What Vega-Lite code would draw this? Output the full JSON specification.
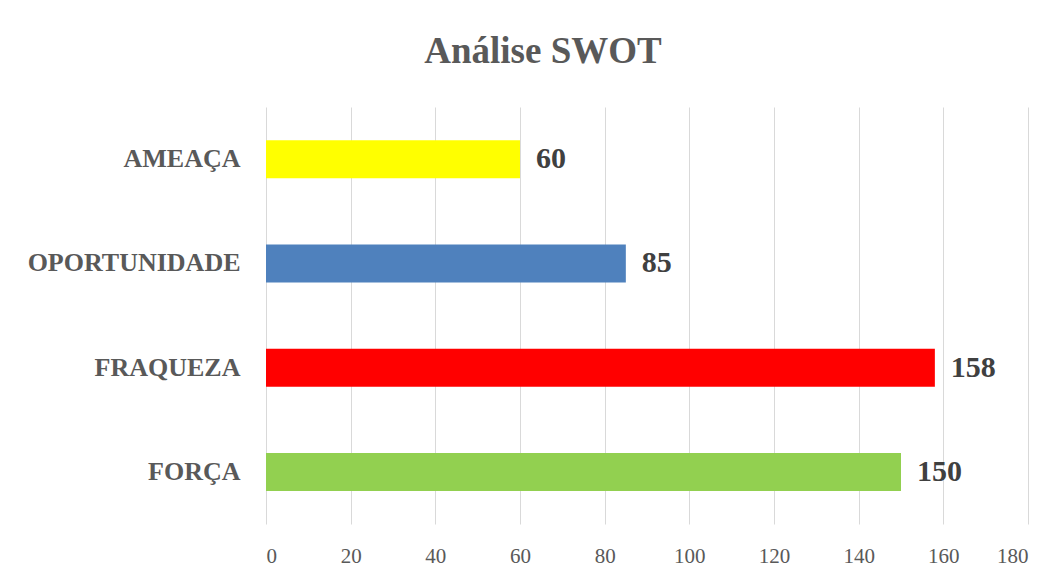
{
  "$schema": "https://vega.github.io/schema/vega-lite/v6.json",
  "width": 762,
  "height": 417,
  "autosize": {"type": "none"},
  "padding": {"left": 266, "top": 107, "right": 34, "bottom": 56},
  "background": "white",
  "title": {
    "text": "Análise SWOT",
    "font": "Liberation Serif",
    "fontSize": 37,
    "fontWeight": "bold",
    "color": "#595959",
    "anchor": "middle",
    "frame": "group",
    "dx": -104,
    "offset": 36
  },
  "data": {
    "values": [
      {"categoria": "AMEAÇA", "valor": 60},
      {"categoria": "OPORTUNIDADE", "valor": 85},
      {"categoria": "FRAQUEZA", "valor": 158},
      {"categoria": "FORÇA", "valor": 150}
    ]
  },
  "encoding": {
    "y": {
      "field": "categoria",
      "type": "nominal",
      "sort": ["AMEAÇA", "OPORTUNIDADE", "FRAQUEZA", "FORÇA"],
      "scale": {"paddingInner": 0, "paddingOuter": 0},
      "axis": {
        "title": null,
        "domain": false,
        "ticks": false,
        "labelFont": "Liberation Serif",
        "labelFontSize": 26,
        "labelFontWeight": "bold",
        "labelColor": "#595959",
        "labelPadding": 26,
        "labelLimit": 300
      }
    },
    "x": {
      "field": "valor",
      "type": "quantitative",
      "scale": {"domain": [0, 180], "nice": false},
      "axis": {
        "title": null,
        "values": [0, 20, 40, 60, 80, 100, 120, 140, 160, 180],
        "domain": false,
        "ticks": false,
        "grid": true,
        "gridColor": "#D9D9D9",
        "gridWidth": 1,
        "labelFont": "Liberation Serif",
        "labelFontSize": 21,
        "labelColor": "#595959",
        "labelPadding": 21
      }
    }
  },
  "layer": [
    {
      "mark": {"type": "bar", "size": 38},
      "encoding": {
        "color": {
          "field": "categoria",
          "type": "nominal",
          "scale": {
            "domain": ["AMEAÇA", "OPORTUNIDADE", "FRAQUEZA", "FORÇA"],
            "range": ["#FFFF00", "#4F81BD", "#FF0000", "#92D050"]
          },
          "legend": null
        }
      }
    },
    {
      "mark": {
        "type": "text",
        "align": "left",
        "dx": 16,
        "font": "Liberation Serif",
        "fontSize": 30,
        "fontWeight": "bold",
        "color": "#404040"
      },
      "encoding": {"text": {"field": "valor", "type": "quantitative"}}
    }
  ],
  "config": {"view": {"stroke": null}}
}
